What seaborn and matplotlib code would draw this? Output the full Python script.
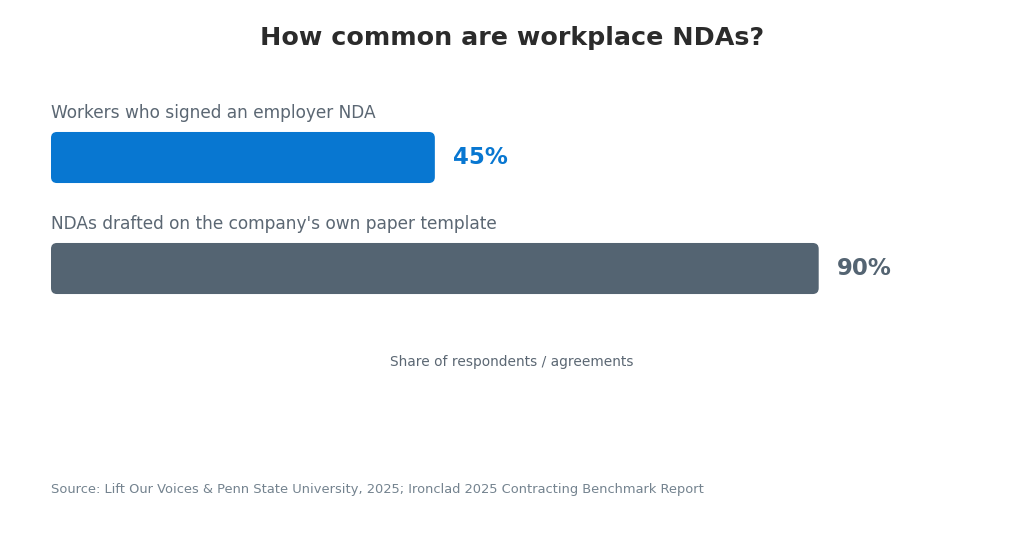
import numpy as np
import pandas as pd
import matplotlib
matplotlib.use("Agg")
import matplotlib.pyplot as plt
import seaborn as sns
from matplotlib.patches import FancyBboxPatch

categories = [
    "Workers who signed an employer NDA",
    "NDAs drafted on the company's own paper template",
]
shares = [45, 90]
value_labels = ["45%", "90%"]
bar_colors = ["#0877D1", "#546472"]

TITLE = "How common are workplace NDAs?"
XLABEL = "Share of respondents / agreements"
SOURCE = "Source: Lift Our Voices & Penn State University, 2025; Ironclad 2025 Contracting Benchmark Report"
FONT = "DejaVu Sans"

sns.set_theme(style="white")
plt.rcParams["font.family"] = [FONT]

df = pd.DataFrame({"category": categories, "share": shares})

fig = plt.figure(figsize=(10.24, 5.36), dpi=100)
ax = fig.add_axes([51 / 1024, 0.3748, 853 / 1024, 0.4556])

sns.barplot(
    data=df, x="share", y="category", hue="category",
    palette=bar_colors, saturation=1, width=0.46, legend=False, ax=ax,
)
ax.set_xlim(0, 100)
ax.set_ylim(1.6, -0.6)

# swap plain rectangles for rounded ones
px_per_x = 853 / 100
px_per_y = 111
for patch in list(ax.patches):
    x0, y0 = patch.get_x(), patch.get_y()
    w, h = patch.get_width(), patch.get_height()
    rounded = FancyBboxPatch(
        (x0, y0), w, h,
        boxstyle="round,pad=0,rounding_size=0.7",
        mutation_aspect=px_per_x / px_per_y,
        facecolor=patch.get_facecolor(), edgecolor="none",
    )
    patch.remove()
    ax.add_patch(rounded)

for i, (cat, val, lab, col) in enumerate(zip(categories, shares, value_labels, bar_colors)):
    ax.text(0, i - 0.405, cat, ha="left", va="center", fontsize=12.25,
            color="#5b6773", family=FONT)
    ax.text(val + 2.1, i, lab, ha="left", va="center", fontsize=16.5,
            fontweight="bold", color=col, family=FONT)

ax.set_xlabel("")
ax.set_ylabel("")
ax.set_xticks([])
ax.set_yticks([])
sns.despine(ax=ax, left=True, bottom=True)

fig.text(0.5, 1 - 38 / 536, TITLE, ha="center", va="center", fontsize=18.3,
         fontweight="bold", color="#2b2b2b", family=FONT)
fig.text(0.5, 1 - 362 / 536, XLABEL, ha="center", va="center", fontsize=9.9,
         color="#5b6773", family=FONT)
fig.text(51 / 1024, 1 - 490 / 536, SOURCE, ha="left", va="center", fontsize=9.4,
         color="#74838f", family=FONT)

fig.savefig("out.png", dpi=100, facecolor="white")
